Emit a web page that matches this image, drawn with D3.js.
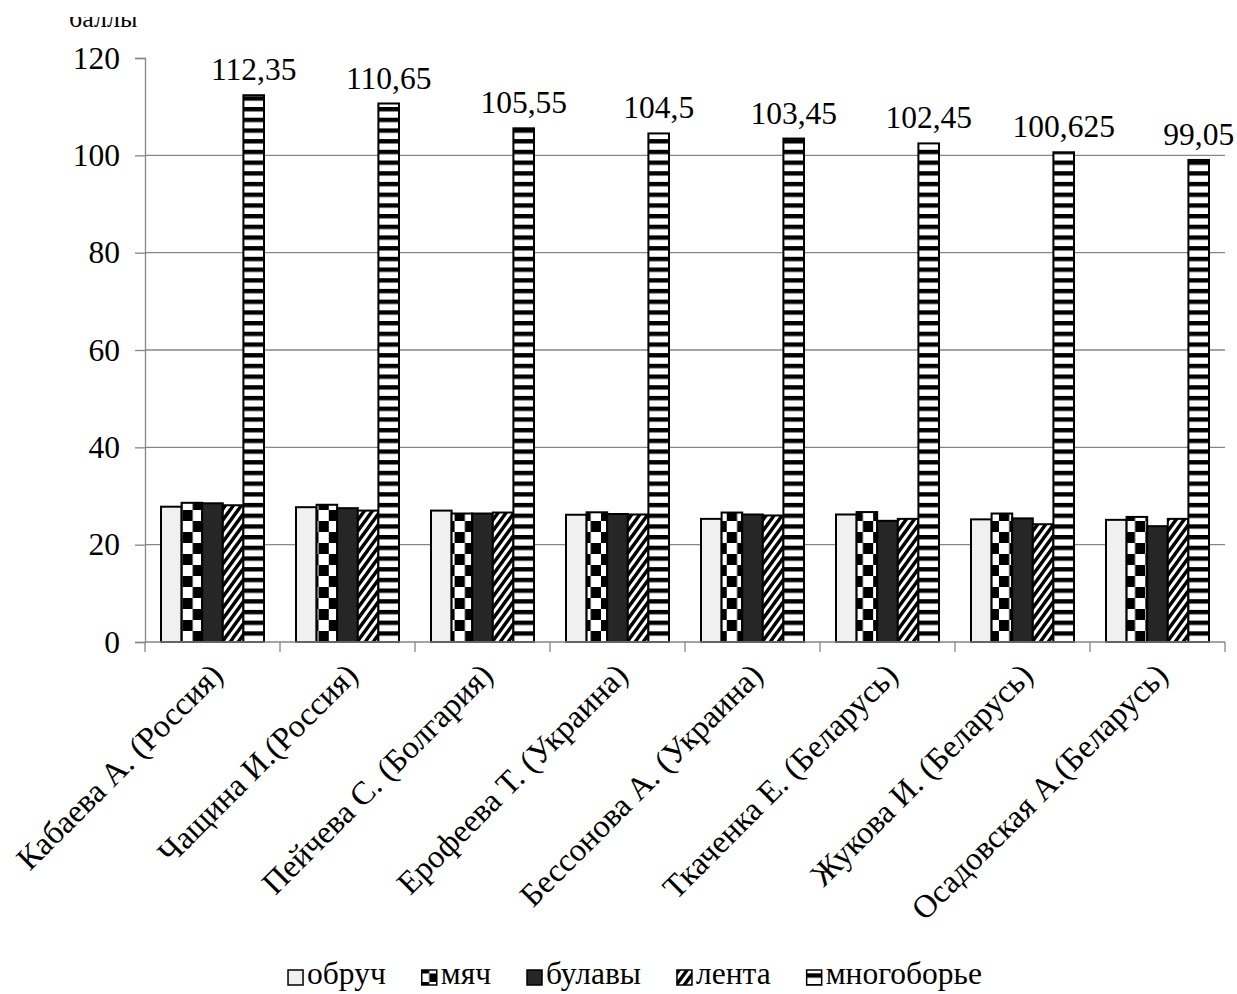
<!DOCTYPE html>
<html>
<head>
<meta charset="utf-8">
<script src="https://cdn.jsdelivr.net/npm/d3@7"></script>
<style>
  html, body { margin: 0; padding: 0; background: #fff; }
  svg, svg text { font-family: "Liberation Serif", "Times New Roman", serif; }
</style>
</head>
<body>
<svg id="chart" width="1237" height="994"></svg>
<script>
// Gymnasts and their country
const categories = [
  "Кабаева А. (Россия)",
  "Чащина И.(Россия)",
  "Пейчева С. (Болгария)",
  "Ерофеева Т. (Украина)",
  "Бессонова А. (Украина)",
  "Ткаченка Е. (Беларусь)",
  "Жукова И. (Беларусь)",
  "Осадовская А.(Беларусь)"
];

// Apparatus names (legend order)
const seriesNames = ["обруч", "мяч", "булавы", "лента", "многоборье"];

// Scores per apparatus
const hoop    = [27.8, 27.7, 27.0, 26.15, 25.3, 26.2, 25.2, 25.1];
const ball    = [28.6, 28.2, 26.4, 26.65, 26.6, 26.7, 26.4, 25.7];
const clubs   = [28.5, 27.5, 26.4, 26.3, 26.2, 24.9, 25.4, 23.8];
const ribbon  = [28.1, 27.0, 26.6, 26.2, 26.0, 25.3, 24.2, 25.3];
const allRound = [112.35, 110.65, 105.55, 104.5, 103.45, 102.45, 100.625, 99.05];

const yTicks = [0, 20, 40, 60, 80, 100, 120];
const yTitle = "баллы";

const seriesValues = [hoop, ball, clubs, ribbon, allRound];

const svg = d3.select("#chart");
const plotL = 145, plotR = 1225, plotT = 58, plotB = 642;
const gray = "#868686";
const numSize = 31.5;

const y = d3.scaleLinear().domain([0, 120]).range([plotB, plotT]);
const x0 = d3.scaleBand().domain(categories).range([plotL, plotR]).padding(0);
const gap = x0.step() * 0.237;
const x1 = d3.scaleBand().domain(seriesNames).range([gap / 2, x0.step() - gap / 2]).padding(0);
const bw = x1.bandwidth();

const defs = svg.append("defs");

// ---- fill patterns ----
// horizontal stripes (all-around)
const stripe = defs.append("pattern").attr("id", "pat-hstripe")
  .attr("patternUnits", "userSpaceOnUse").attr("width", 20).attr("height", 10.7);
stripe.append("rect").attr("width", 20).attr("height", 10.7).attr("fill", "#fff");
stripe.append("rect").attr("y", 0).attr("width", 20).attr("height", 4.4).attr("fill", "#000");

// diagonal "/" lines (ribbon)
const diag = defs.append("pattern").attr("id", "pat-diag")
  .attr("patternUnits", "userSpaceOnUse").attr("width", 8).attr("height", 11);
diag.append("rect").attr("width", 8).attr("height", 11).attr("fill", "#fff");
diag.append("path")
  .attr("d", "M-1,12.4L9,-1.4M-9,12.4L1,-1.4M7,12.4L17,-1.4")
  .attr("stroke", "#000").attr("stroke-width", 3.4);

// checkerboard (ball), one per bar so the two columns follow its edges
function checker(id, px, w, h) {
  const p = defs.append("pattern").attr("id", id)
    .attr("patternUnits", "userSpaceOnUse")
    .attr("x", px).attr("y", plotB).attr("width", w).attr("height", h * 2);
  p.append("rect").attr("width", w).attr("height", h * 2).attr("fill", "#fff");
  p.append("rect").attr("x", 0).attr("y", 0).attr("width", w / 2).attr("height", h).attr("fill", "#000");
  p.append("rect").attr("x", w / 2).attr("y", h).attr("width", w / 2).attr("height", h).attr("fill", "#000");
}
categories.forEach((c, i) => checker("pat-chk-" + i, x0(c) + x1("мяч"), bw, 11));
checker("pat-chk-legend", 0, 15, 7.5);

function fillFor(s, i) {
  if (s === "обруч") return "#f0f0f0";
  if (s === "мяч") return i === -1 ? "url(#pat-chk-legend)" : "url(#pat-chk-" + i + ")";
  if (s === "булавы") return "#262626";
  if (s === "лента") return "url(#pat-diag)";
  return "url(#pat-hstripe)";
}

// ---- gridlines ----
svg.append("g").selectAll("line").data(yTicks.filter(t => t > 0 && t < 120)).join("line")
  .attr("x1", plotL).attr("x2", plotR)
  .attr("y1", d => y(d)).attr("y2", d => y(d))
  .attr("stroke", gray).attr("stroke-width", 1.3);

// ---- y axis ----
const yAxis = svg.append("g").attr("transform", `translate(${plotL},0)`)
  .call(d3.axisLeft(y).tickValues(yTicks).tickSize(10).tickPadding(15).tickFormat(d3.format("d")));
yAxis.attr("font-family", null).attr("font-size", null);
yAxis.select(".domain").attr("stroke", gray).attr("stroke-width", 1.3);
yAxis.selectAll(".tick line").attr("stroke", gray).attr("stroke-width", 1.3);
yAxis.selectAll(".tick text").attr("font-size", numSize).attr("fill", "#000");

// ---- bars ----
const groups = svg.append("g").selectAll("g").data(categories).join("g")
  .attr("transform", d => `translate(${x0(d)},0)`);
groups.selectAll("rect")
  .data((c, i) => seriesNames.map((s, k) => ({ s, i, v: seriesValues[k][i] })))
  .join("rect")
  .attr("x", d => x1(d.s))
  .attr("y", d => y(d.v))
  .attr("width", bw)
  .attr("height", d => y(0) - y(d.v))
  .attr("fill", d => fillFor(d.s, d.i))
  .attr("stroke", "#000").attr("stroke-width", 2);

// ---- value labels on the all-around bars ----
svg.append("g").selectAll("text").data(categories).join("text")
  .attr("x", (c) => x0(c) + x1("многоборье") + bw / 2)
  .attr("y", (c, i) => y(allRound[i]) - 15)
  .attr("text-anchor", "middle")
  .attr("font-size", numSize)
  .text((c, i) => String(allRound[i]).replace(".", ","));

// ---- x axis ----
const xAxis = svg.append("g").attr("transform", `translate(0,${plotB})`);
xAxis.append("line").attr("x1", plotL).attr("x2", plotR).attr("stroke", gray).attr("stroke-width", 1.3);
xAxis.selectAll("line.tk").data(d3.range(categories.length + 1)).join("line").attr("class", "tk")
  .attr("x1", i => plotL + i * x0.step()).attr("x2", i => plotL + i * x0.step())
  .attr("y1", 0).attr("y2", 10).attr("stroke", gray).attr("stroke-width", 1.3);
xAxis.selectAll("text").data(categories).join("text")
  .attr("transform", c => `translate(${x0(c) + x0.step() / 2 + 4},${27}) rotate(-45)`)
  .attr("text-anchor", "end")
  .attr("dy", "0.35em")
  .attr("font-size", 32.5)
  .text(c => c);

// ---- y title (clipped at the top edge) ----
defs.append("clipPath").attr("id", "clip-title")
  .append("rect").attr("x", 0).attr("y", 17).attr("width", 300).attr("height", 40);
svg.append("text").attr("x", 69).attr("y", 27)
  .attr("font-size", 26).attr("clip-path", "url(#clip-title)")
  .text(yTitle);

// ---- legend ----
const legend = svg.append("g");
let lx = 0;
seriesNames.forEach(s => {
  const g = legend.append("g").attr("transform", `translate(${lx},0)`);
  g.append("rect").attr("x", 0).attr("y", -14).attr("width", 15).attr("height", 15)
    .attr("fill", fillFor(s, -1)).attr("stroke", "#000").attr("stroke-width", 1.5);
  const t = g.append("text").attr("x", 19).attr("y", 0).attr("font-size", numSize).text(s);
  const w = t.node().getComputedTextLength();
  lx += 19 + w + 36;
});
const legendW = lx - 36;
legend.attr("transform", `translate(${635 - legendW / 2},${984})`);
</script>
</body>
</html>
